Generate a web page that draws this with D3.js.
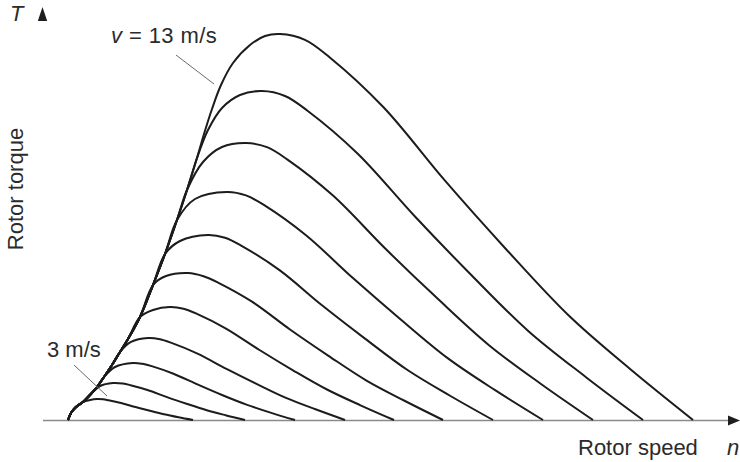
<!DOCTYPE html>
<html>
<head>
<meta charset="utf-8">
<script src="https://cdn.jsdelivr.net/npm/d3@7"></script>
<style>
  html, body { margin: 0; padding: 0; background: #fff; }
  svg { display: block; }
  text { font-family: "Liberation Sans", Arial, sans-serif; fill: #2b2b2b; }
</style>
</head>
<body>
<svg id="chart" width="740" height="462"></svg>
<script>
// Wind speeds of the family of torque curves (m/s)
const speeds = [3, 4, 5, 6, 7, 8, 9, 10, 11, 12, 13];

// Common rising branch shared by the curves (rotor speed n, torque T in % of max)
const riseN = [0, 0.6, 1.6, 3.0, 4.4, 5.8, 7.2, 8.8, 10.4, 12.0, 14.4, 17.0, 19.4, 21.8, 23.8, 25.8, 27.2, 28.8, 30.6, 33.0, 36.4, 39.4];
const riseT = [0, 1.81, 3.37, 4.66, 6.48, 8.55, 11.14, 14.25, 17.62, 20.98, 26.68, 34.97, 43.0, 51.81, 59.59, 67.88, 74.09, 80.57, 86.79, 92.49, 97.15, 99.48];

// Index on the rising branch where each curve leaves it
const departIdx = [3, 4, 6, 8, 10, 11, 12, 13, 14, 15, 21];

// Each curve's own part: approach to its peak, then the falling branch down to zero torque
const branchN = [
  [4.4, 5.8, 7.0, 8.1, 10.6, 13.5, 16.4, 19.2, 22.1, 25.0],
  [6.4, 9.0, 11.0, 12.5, 15.9, 19.8, 23.7, 27.6, 31.5, 35.4],
  [9.4, 13.0, 14.9, 16.9, 21.1, 26.0, 30.8, 35.7, 40.5, 45.4],
  [12.6, 16.0, 18.4, 20.7, 25.9, 31.8, 37.7, 43.6, 49.5, 55.4],
  [17.0, 20.4, 23.1, 25.8, 31.6, 38.3, 45.0, 51.8, 58.5, 65.2],
  [19.6, 24.0, 27.1, 30.1, 36.8, 44.4, 52.1, 59.7, 67.4, 75.0],
  [22.4, 28.0, 31.4, 34.8, 42.3, 50.8, 59.4, 67.9, 76.5, 85.0],
  [25.4, 31.8, 35.6, 39.4, 47.6, 57.1, 66.6, 76.0, 85.5, 95.0],
  [27.0, 30.8, 35.6, 39.8, 43.9, 53.0, 63.4, 73.8, 84.2, 94.6, 105.0],
  [28.0, 30.8, 34.4, 38.8, 43.4, 47.9, 57.9, 69.3, 80.7, 92.1, 103.6, 115.0],
  [42.4, 47.4, 52.3, 63.1, 75.4, 87.8, 100.2, 112.6, 125.0]
];
const branchT = [
  [5.18, 5.44, 5.36, 5.10, 4.40, 3.37, 2.38, 1.48, 0.70, 0],
  [8.81, 9.59, 9.44, 9.02, 7.77, 5.93, 4.22, 2.59, 1.24, 0],
  [13.73, 14.77, 14.55, 13.89, 11.97, 9.15, 6.48, 3.99, 1.92, 0],
  [20.21, 21.24, 20.92, 19.97, 17.20, 13.16, 9.35, 5.73, 2.77, 0],
  [28.50, 29.27, 28.83, 27.51, 23.70, 18.13, 12.88, 7.90, 3.81, 0],
  [37.31, 38.08, 37.26, 35.54, 30.65, 23.45, 16.63, 10.21, 4.92, 0],
  [46.37, 47.93, 47.21, 45.05, 38.83, 29.72, 21.09, 12.95, 6.22, 0],
  [57.25, 59.07, 58.18, 55.52, 47.85, 36.63, 25.98, 15.96, 7.67, 0],
  [66.84, 70.73, 71.76, 70.68, 67.46, 58.13, 44.48, 31.58, 19.38, 9.33, 0],
  [75.13, 80.83, 84.20, 85.23, 83.95, 80.13, 69.04, 52.85, 37.51, 23.01, 11.09, 0],
  [100, 98.5, 93.99, 81.01, 61.99, 43.99, 26.99, 13.01, 0]
];

const svg = d3.select("#chart");

const x = d3.scaleLinear().domain([0, 125]).range([68, 693]);
const y = d3.scaleLinear().domain([0, 100]).range([420, 34]);

// Horizontal axis with arrow head
svg.append("line")
  .attr("x1", x(-5)).attr("x2", 730)
  .attr("y1", y(0) + 0.5).attr("y2", y(0) + 0.5)
  .attr("stroke", "#8a8a8a").attr("stroke-width", 1.4);
svg.append("path")
  .attr("d", `M728,${y(0) + 0.5 - 5}L740,${y(0) + 0.5}L728,${y(0) + 0.5 + 5}Z`)
  .attr("fill", "#1e1e1e");

// Vertical axis arrow head
svg.append("path")
  .attr("d", "M42.5,7L47.2,21L37.8,21Z")
  .attr("fill", "#1e1e1e");

// Torque curves
const line = d3.line()
  .x(d => x(d[0]))
  .y(d => y(d[1]))
  .curve(d3.curveCatmullRom.alpha(0.5));

const curves = speeds.map((v, i) => {
  const pts = [];
  for (let k = 0; k <= departIdx[i]; k++) pts.push([riseN[k], riseT[k]]);
  branchN[i].forEach((n, k) => pts.push([n, branchT[i][k]]));
  return { v, pts };
});

svg.append("g")
  .selectAll("path")
  .data(curves)
  .join("path")
  .attr("d", d => line(d.pts))
  .attr("fill", "none")
  .attr("stroke", "#1c1c1c")
  .attr("stroke-width", 2)
  .attr("stroke-linejoin", "round");

// Leader lines for the speed labels
svg.append("line")
  .attr("x1", 176).attr("y1", 55).attr("x2", 214).attr("y2", 84)
  .attr("stroke", "#6a6a6a").attr("stroke-width", 1);
svg.append("line")
  .attr("x1", 74).attr("y1", 365).attr("x2", 107).attr("y2", 396)
  .attr("stroke", "#6a6a6a").attr("stroke-width", 1);

// Labels
const lbl13 = svg.append("text").attr("x", 111).attr("y", 43).attr("font-size", 22)
  .attr("letter-spacing", 0.4);
lbl13.append("tspan").attr("font-style", "italic").text("v");
lbl13.append("tspan").text(" = 13 m/s");

svg.append("text").attr("x", 47).attr("y", 357).attr("font-size", 22).text("3 m/s");

svg.append("text").attr("x", 10).attr("y", 21).attr("font-size", 22)
  .attr("font-style", "italic").text("T");

svg.append("text").attr("x", 578).attr("y", 455).attr("font-size", 22).text("Rotor speed");
svg.append("text").attr("x", 727).attr("y", 455).attr("font-size", 22)
  .attr("font-style", "italic").text("n");

svg.append("text")
  .attr("transform", "translate(23,189) rotate(-90)")
  .attr("text-anchor", "middle")
  .attr("font-size", 22)
  .text("Rotor torque");
</script>
</body>
</html>
